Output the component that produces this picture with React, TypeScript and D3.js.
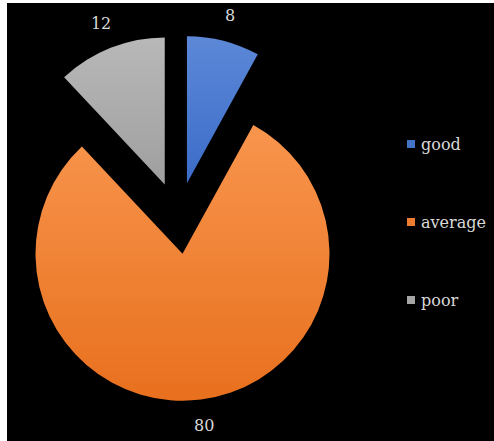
import React from "react";
import * as d3 from "d3";

const categories = ["good", "average", "poor"];
const values = [8, 80, 12];
const topColors = ["#5d88d8", "#f8954d", "#b8b8b8"];
const bottomColors = ["#3b6cc8", "#e8701e", "#9f9f9f"];
const legendColors = ["#4472c4", "#ed7d31", "#a5a5a5"];

const W = 494;
const H = 441;
const FONT = "DejaVu Serif";

export default function App() {
  const cx = 178;
  const cy = 218;
  const r = 147;
  const explode = 36;
  const labelR = r + 26;

  const pie = d3
    .pie<number>()
    .sort(null)
    .value((d) => d)
    .startAngle(0)
    .endAngle(2 * Math.PI);
  const arcs = pie(values);
  const arcGen = d3.arc<d3.PieArcDatum<number>>().innerRadius(0).outerRadius(r);

  const legendY = d3.scalePoint<string>().domain(categories).range([144, 300]);

  return (
    <div>
      <style>{`body{margin:0}`}</style>
      <svg width={W} height={H} style={{ display: "block" }}>
        <defs>
          {categories.map((c, i) => (
            <linearGradient key={c} id={`g${i}`} x1="0" y1="0" x2="0" y2="1">
              <stop offset="0" stopColor={topColors[i]} />
              <stop offset="1" stopColor={bottomColors[i]} />
            </linearGradient>
          ))}
        </defs>
        <rect x={0} y={0} width={W} height={H} fill="#ffffff" />
        <rect x={7} y={3} width={W - 7} height={H - 3} fill="#000000" />
        {arcs.map((a, i) => {
          const mid = (a.startAngle + a.endAngle) / 2;
          const ox = cx + Math.sin(mid) * explode;
          const oy = cy - Math.cos(mid) * explode;
          const lx = ox + Math.sin(mid) * labelR;
          const ly = oy - Math.cos(mid) * labelR;
          return (
            <g key={categories[i]}>
              <path
                d={arcGen(a) || ""}
                transform={`translate(${ox},${oy})`}
                fill={`url(#g${i})`}
              />
              <text
                x={lx}
                y={ly}
                textAnchor="middle"
                dominantBaseline="central"
                fontFamily={FONT}
                fontSize={16}
                fill="#d9d9d9"
              >
                {values[i]}
              </text>
            </g>
          );
        })}
        {categories.map((c, i) => {
          const y = legendY(c) as number;
          return (
            <g key={`l-${c}`}>
              <rect x={407} y={y - 4} width={8} height={8} fill={legendColors[i]} />
              <text
                x={421}
                y={y}
                dominantBaseline="central"
                fontFamily={FONT}
                fontSize={16}
                fill="#d9d9d9"
              >
                {c}
              </text>
            </g>
          );
        })}
      </svg>
    </div>
  );
}
